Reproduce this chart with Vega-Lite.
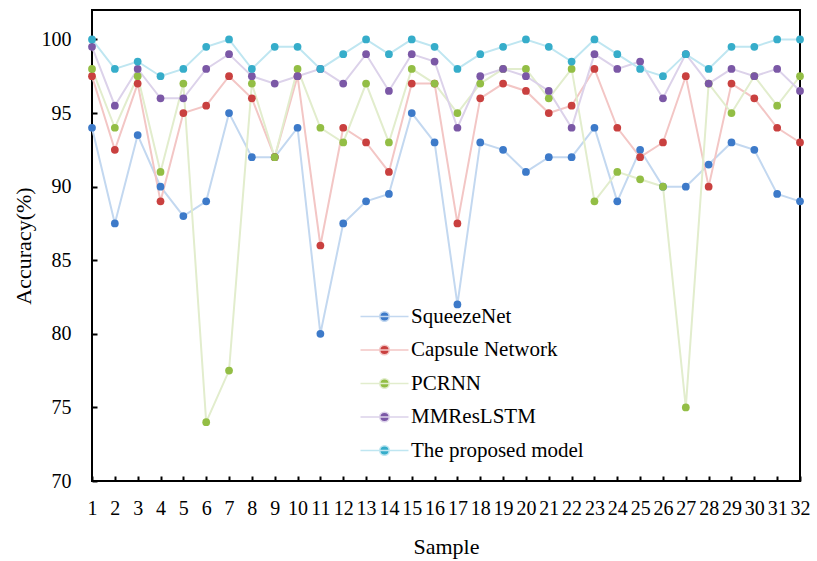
{
  "$schema": "https://vega.github.io/schema/vega-lite/v6.json",
  "width": 708,
  "height": 471,
  "autosize": {"type": "none"},
  "padding": {"left": 92, "top": 10, "right": 17, "bottom": 80},
  "background": "white",
  "config": {
    "view": {"stroke": "black", "strokeWidth": 2},
    "font": "Liberation Serif",
    "axis": {
      "labelFont": "Liberation Serif",
      "titleFont": "Liberation Serif",
      "labelColor": "black",
      "titleColor": "black",
      "labelFontSize": 20,
      "titleFontSize": 22,
      "titleFontWeight": "normal",
      "tickColor": "black",
      "tickWidth": 2,
      "tickSize": 5,
      "offset": -5,
      "domain": false,
      "grid": false,
      "labelOverlap": false,
      "labelBound": false,
      "labelFlush": false
    },
    "legend": {
      "labelFont": "Liberation Serif",
      "labelFontSize": 21,
      "labelColor": "black",
      "labelLimit": 400
    }
  },
  "datasets": {
    "acc": [
      {"sample": 1, "model": "SqueezeNet", "acc": 94},
      {"sample": 2, "model": "SqueezeNet", "acc": 87.5},
      {"sample": 3, "model": "SqueezeNet", "acc": 93.5},
      {"sample": 4, "model": "SqueezeNet", "acc": 90},
      {"sample": 5, "model": "SqueezeNet", "acc": 88},
      {"sample": 6, "model": "SqueezeNet", "acc": 89},
      {"sample": 7, "model": "SqueezeNet", "acc": 95},
      {"sample": 8, "model": "SqueezeNet", "acc": 92},
      {"sample": 9, "model": "SqueezeNet", "acc": 92},
      {"sample": 10, "model": "SqueezeNet", "acc": 94},
      {"sample": 11, "model": "SqueezeNet", "acc": 80},
      {"sample": 12, "model": "SqueezeNet", "acc": 87.5},
      {"sample": 13, "model": "SqueezeNet", "acc": 89},
      {"sample": 14, "model": "SqueezeNet", "acc": 89.5},
      {"sample": 15, "model": "SqueezeNet", "acc": 95},
      {"sample": 16, "model": "SqueezeNet", "acc": 93},
      {"sample": 17, "model": "SqueezeNet", "acc": 82},
      {"sample": 18, "model": "SqueezeNet", "acc": 93},
      {"sample": 19, "model": "SqueezeNet", "acc": 92.5},
      {"sample": 20, "model": "SqueezeNet", "acc": 91},
      {"sample": 21, "model": "SqueezeNet", "acc": 92},
      {"sample": 22, "model": "SqueezeNet", "acc": 92},
      {"sample": 23, "model": "SqueezeNet", "acc": 94},
      {"sample": 24, "model": "SqueezeNet", "acc": 89},
      {"sample": 25, "model": "SqueezeNet", "acc": 92.5},
      {"sample": 26, "model": "SqueezeNet", "acc": 90},
      {"sample": 27, "model": "SqueezeNet", "acc": 90},
      {"sample": 28, "model": "SqueezeNet", "acc": 91.5},
      {"sample": 29, "model": "SqueezeNet", "acc": 93},
      {"sample": 30, "model": "SqueezeNet", "acc": 92.5},
      {"sample": 31, "model": "SqueezeNet", "acc": 89.5},
      {"sample": 32, "model": "SqueezeNet", "acc": 89},
      {"sample": 1, "model": "Capsule Network", "acc": 97.5},
      {"sample": 2, "model": "Capsule Network", "acc": 92.5},
      {"sample": 3, "model": "Capsule Network", "acc": 97},
      {"sample": 4, "model": "Capsule Network", "acc": 89},
      {"sample": 5, "model": "Capsule Network", "acc": 95},
      {"sample": 6, "model": "Capsule Network", "acc": 95.5},
      {"sample": 7, "model": "Capsule Network", "acc": 97.5},
      {"sample": 8, "model": "Capsule Network", "acc": 96},
      {"sample": 9, "model": "Capsule Network", "acc": 92},
      {"sample": 10, "model": "Capsule Network", "acc": 97.5},
      {"sample": 11, "model": "Capsule Network", "acc": 86},
      {"sample": 12, "model": "Capsule Network", "acc": 94},
      {"sample": 13, "model": "Capsule Network", "acc": 93},
      {"sample": 14, "model": "Capsule Network", "acc": 91},
      {"sample": 15, "model": "Capsule Network", "acc": 97},
      {"sample": 16, "model": "Capsule Network", "acc": 97},
      {"sample": 17, "model": "Capsule Network", "acc": 87.5},
      {"sample": 18, "model": "Capsule Network", "acc": 96},
      {"sample": 19, "model": "Capsule Network", "acc": 97},
      {"sample": 20, "model": "Capsule Network", "acc": 96.5},
      {"sample": 21, "model": "Capsule Network", "acc": 95},
      {"sample": 22, "model": "Capsule Network", "acc": 95.5},
      {"sample": 23, "model": "Capsule Network", "acc": 98},
      {"sample": 24, "model": "Capsule Network", "acc": 94},
      {"sample": 25, "model": "Capsule Network", "acc": 92},
      {"sample": 26, "model": "Capsule Network", "acc": 93},
      {"sample": 27, "model": "Capsule Network", "acc": 97.5},
      {"sample": 28, "model": "Capsule Network", "acc": 90},
      {"sample": 29, "model": "Capsule Network", "acc": 97},
      {"sample": 30, "model": "Capsule Network", "acc": 96},
      {"sample": 31, "model": "Capsule Network", "acc": 94},
      {"sample": 32, "model": "Capsule Network", "acc": 93},
      {"sample": 1, "model": "PCRNN", "acc": 98},
      {"sample": 2, "model": "PCRNN", "acc": 94},
      {"sample": 3, "model": "PCRNN", "acc": 97.5},
      {"sample": 4, "model": "PCRNN", "acc": 91},
      {"sample": 5, "model": "PCRNN", "acc": 97},
      {"sample": 6, "model": "PCRNN", "acc": 74},
      {"sample": 7, "model": "PCRNN", "acc": 77.5},
      {"sample": 8, "model": "PCRNN", "acc": 97},
      {"sample": 9, "model": "PCRNN", "acc": 92},
      {"sample": 10, "model": "PCRNN", "acc": 98},
      {"sample": 11, "model": "PCRNN", "acc": 94},
      {"sample": 12, "model": "PCRNN", "acc": 93},
      {"sample": 13, "model": "PCRNN", "acc": 97},
      {"sample": 14, "model": "PCRNN", "acc": 93},
      {"sample": 15, "model": "PCRNN", "acc": 98},
      {"sample": 16, "model": "PCRNN", "acc": 97},
      {"sample": 17, "model": "PCRNN", "acc": 95},
      {"sample": 18, "model": "PCRNN", "acc": 97},
      {"sample": 19, "model": "PCRNN", "acc": 98},
      {"sample": 20, "model": "PCRNN", "acc": 98},
      {"sample": 21, "model": "PCRNN", "acc": 96},
      {"sample": 22, "model": "PCRNN", "acc": 98},
      {"sample": 23, "model": "PCRNN", "acc": 89},
      {"sample": 24, "model": "PCRNN", "acc": 91},
      {"sample": 25, "model": "PCRNN", "acc": 90.5},
      {"sample": 26, "model": "PCRNN", "acc": 90},
      {"sample": 27, "model": "PCRNN", "acc": 75},
      {"sample": 28, "model": "PCRNN", "acc": 97},
      {"sample": 29, "model": "PCRNN", "acc": 95},
      {"sample": 30, "model": "PCRNN", "acc": 97.5},
      {"sample": 31, "model": "PCRNN", "acc": 95.5},
      {"sample": 32, "model": "PCRNN", "acc": 97.5},
      {"sample": 1, "model": "MMResLSTM", "acc": 99.5},
      {"sample": 2, "model": "MMResLSTM", "acc": 95.5},
      {"sample": 3, "model": "MMResLSTM", "acc": 98},
      {"sample": 4, "model": "MMResLSTM", "acc": 96},
      {"sample": 5, "model": "MMResLSTM", "acc": 96},
      {"sample": 6, "model": "MMResLSTM", "acc": 98},
      {"sample": 7, "model": "MMResLSTM", "acc": 99},
      {"sample": 8, "model": "MMResLSTM", "acc": 97.5},
      {"sample": 9, "model": "MMResLSTM", "acc": 97},
      {"sample": 10, "model": "MMResLSTM", "acc": 97.5},
      {"sample": 11, "model": "MMResLSTM", "acc": 98},
      {"sample": 12, "model": "MMResLSTM", "acc": 97},
      {"sample": 13, "model": "MMResLSTM", "acc": 99},
      {"sample": 14, "model": "MMResLSTM", "acc": 96.5},
      {"sample": 15, "model": "MMResLSTM", "acc": 99},
      {"sample": 16, "model": "MMResLSTM", "acc": 98.5},
      {"sample": 17, "model": "MMResLSTM", "acc": 94},
      {"sample": 18, "model": "MMResLSTM", "acc": 97.5},
      {"sample": 19, "model": "MMResLSTM", "acc": 98},
      {"sample": 20, "model": "MMResLSTM", "acc": 97.5},
      {"sample": 21, "model": "MMResLSTM", "acc": 96.5},
      {"sample": 22, "model": "MMResLSTM", "acc": 94},
      {"sample": 23, "model": "MMResLSTM", "acc": 99},
      {"sample": 24, "model": "MMResLSTM", "acc": 98},
      {"sample": 25, "model": "MMResLSTM", "acc": 98.5},
      {"sample": 26, "model": "MMResLSTM", "acc": 96},
      {"sample": 27, "model": "MMResLSTM", "acc": 99},
      {"sample": 28, "model": "MMResLSTM", "acc": 97},
      {"sample": 29, "model": "MMResLSTM", "acc": 98},
      {"sample": 30, "model": "MMResLSTM", "acc": 97.5},
      {"sample": 31, "model": "MMResLSTM", "acc": 98},
      {"sample": 32, "model": "MMResLSTM", "acc": 96.5},
      {"sample": 1, "model": "The proposed model", "acc": 100},
      {"sample": 2, "model": "The proposed model", "acc": 98},
      {"sample": 3, "model": "The proposed model", "acc": 98.5},
      {"sample": 4, "model": "The proposed model", "acc": 97.5},
      {"sample": 5, "model": "The proposed model", "acc": 98},
      {"sample": 6, "model": "The proposed model", "acc": 99.5},
      {"sample": 7, "model": "The proposed model", "acc": 100},
      {"sample": 8, "model": "The proposed model", "acc": 98},
      {"sample": 9, "model": "The proposed model", "acc": 99.5},
      {"sample": 10, "model": "The proposed model", "acc": 99.5},
      {"sample": 11, "model": "The proposed model", "acc": 98},
      {"sample": 12, "model": "The proposed model", "acc": 99},
      {"sample": 13, "model": "The proposed model", "acc": 100},
      {"sample": 14, "model": "The proposed model", "acc": 99},
      {"sample": 15, "model": "The proposed model", "acc": 100},
      {"sample": 16, "model": "The proposed model", "acc": 99.5},
      {"sample": 17, "model": "The proposed model", "acc": 98},
      {"sample": 18, "model": "The proposed model", "acc": 99},
      {"sample": 19, "model": "The proposed model", "acc": 99.5},
      {"sample": 20, "model": "The proposed model", "acc": 100},
      {"sample": 21, "model": "The proposed model", "acc": 99.5},
      {"sample": 22, "model": "The proposed model", "acc": 98.5},
      {"sample": 23, "model": "The proposed model", "acc": 100},
      {"sample": 24, "model": "The proposed model", "acc": 99},
      {"sample": 25, "model": "The proposed model", "acc": 98},
      {"sample": 26, "model": "The proposed model", "acc": 97.5},
      {"sample": 27, "model": "The proposed model", "acc": 99},
      {"sample": 28, "model": "The proposed model", "acc": 98},
      {"sample": 29, "model": "The proposed model", "acc": 99.5},
      {"sample": 30, "model": "The proposed model", "acc": 99.5},
      {"sample": 31, "model": "The proposed model", "acc": 100},
      {"sample": 32, "model": "The proposed model", "acc": 100}
    ]
  },
  "data": {"name": "acc"},
  "encoding": {
    "x": {
      "field": "sample",
      "type": "quantitative",
      "scale": {"domain": [1, 32], "nice": false, "zero": false},
      "axis": {
        "title": "Sample",
        "values": [1,2,3,4,5,6,7,8,9,10,11,12,13,14,15,16,17,18,19,20,21,22,23,24,25,26,27,28,29,30,31,32],
        "labelPadding": 17,
        "titlePadding": 18
      }
    },
    "y": {
      "field": "acc",
      "type": "quantitative",
      "scale": {"domain": [70, 102], "nice": false, "zero": false},
      "axis": {
        "title": "Accuracy(%)",
        "values": [70, 75, 80, 85, 90, 95, 100],
        "labelPadding": 21,
        "titlePadding": 6
      }
    }
  },
  "layer": [
    {
      "mark": {"type": "line", "strokeWidth": 2},
      "encoding": {
        "color": {
          "field": "model",
          "type": "nominal",
          "sort": ["SqueezeNet", "Capsule Network", "PCRNN", "MMResLSTM", "The proposed model"],
          "scale": {
            "domain": ["SqueezeNet", "Capsule Network", "PCRNN", "MMResLSTM", "The proposed model"],
            "range": ["#C3D8F0", "#F3C6C5", "#E2EDCD", "#DCD2EA", "#BFE6F1"]
          },
          "legend": {
            "title": null,
            "orient": "none",
            "legendX": 282,
            "legendY": 296,
            "symbolType": "M-6,0H6M-1.2,0A1.2,1.2 0 1,0 1.2,0A1.2,1.2 0 1,0 -1.2,0",
            "symbolSize": 64,
            "symbolStrokeWidth": 1.5,
            "labelOffset": 16,
            "rowPadding": 11.5
          }
        }
      }
    },
    {
      "mark": {"type": "point", "filled": true, "size": 60, "opacity": 1},
      "encoding": {
        "fill": {
          "field": "model",
          "type": "nominal",
          "sort": ["SqueezeNet", "Capsule Network", "PCRNN", "MMResLSTM", "The proposed model"],
          "scale": {
            "domain": ["SqueezeNet", "Capsule Network", "PCRNN", "MMResLSTM", "The proposed model"],
            "range": ["#3D7AC9", "#C9403F", "#93BE45", "#7B58A6", "#36ADCA"]
          },
          "legend": {
            "title": null,
            "orient": "none",
            "legendX": 282,
            "legendY": 296,
            "symbolType": "M-6,0H6M-1.2,0A1.2,1.2 0 1,0 1.2,0A1.2,1.2 0 1,0 -1.2,0",
            "symbolSize": 64,
            "symbolStrokeWidth": 1.5,
            "symbolOpacity": 1,
            "labelOffset": 16,
            "rowPadding": 11.5
          }
        }
      }
    }
  ]
}
